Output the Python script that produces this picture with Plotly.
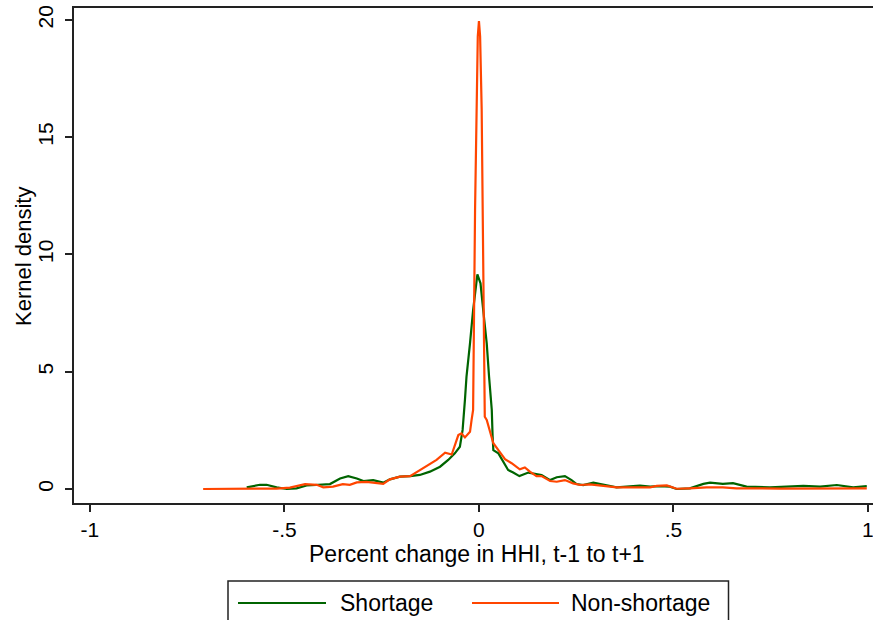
import plotly.graph_objects as go

# ---- data ----
shortage_x = [-0.597, -0.563, -0.546, -0.520, -0.494, -0.469, -0.443, -0.401, -0.383, -0.357,
              -0.336, -0.314, -0.297, -0.272, -0.246, -0.229, -0.203, -0.177, -0.152, -0.126,
              -0.100, -0.079, -0.062, -0.049, -0.042, -0.036, -0.032, -0.023, -0.015, -0.004,
              0.004, 0.011, 0.020, 0.026, 0.033, 0.035, 0.037, 0.050, 0.062, 0.075,
              0.088, 0.104, 0.127, 0.148, 0.161, 0.183, 0.200, 0.221, 0.238, 0.251,
              0.268, 0.294, 0.320, 0.354, 0.405, 0.414, 0.440, 0.465, 0.491, 0.508,
              0.542, 0.577, 0.594, 0.627, 0.653, 0.688, 0.748, 0.799, 0.834, 0.877,
              0.920, 0.962, 0.997]
shortage_y = [0.07, 0.18, 0.18, 0.07, 0.00, 0.03, 0.15, 0.18, 0.21, 0.45,
              0.55, 0.45, 0.34, 0.38, 0.27, 0.41, 0.53, 0.55, 0.60, 0.74,
              0.95, 1.24, 1.52, 1.80, 2.52, 3.80, 4.79, 6.21, 7.63, 9.15,
              8.77, 7.63, 6.21, 4.79, 3.37, 2.30, 1.66, 1.52, 1.17, 0.81,
              0.70, 0.55, 0.70, 0.64, 0.60, 0.38, 0.50, 0.55, 0.38, 0.21,
              0.17, 0.27, 0.17, 0.07, 0.13, 0.14, 0.10, 0.12, 0.10, 0.00,
              0.03, 0.22, 0.27, 0.22, 0.25, 0.10, 0.07, 0.10, 0.13, 0.10,
              0.17, 0.07, 0.12]

nonshortage_x = [-0.709, -0.640, -0.563, -0.520, -0.486, -0.447, -0.417, -0.400, -0.375, -0.350,
                 -0.332, -0.314, -0.289, -0.263, -0.246, -0.229, -0.203, -0.177, -0.152, -0.126,
                 -0.109, -0.087, -0.070, -0.053, -0.045, -0.036, -0.023, -0.019, -0.015, -0.010,
                 -0.006, -0.003, 0.000, 0.003, 0.007, 0.011, 0.015, 0.020, 0.028, 0.037,
                 0.050, 0.067, 0.084, 0.105, 0.118, 0.131, 0.148, 0.161, 0.183, 0.200,
                 0.221, 0.242, 0.260, 0.285, 0.320, 0.354, 0.440, 0.457, 0.483, 0.508,
                 0.542, 0.585, 0.627, 0.662, 0.774, 0.877, 0.997]
nonshortage_y = [0.00, 0.00, 0.01, 0.02, 0.06, 0.21, 0.18, 0.07, 0.10, 0.21,
                 0.18, 0.28, 0.30, 0.26, 0.22, 0.41, 0.53, 0.55, 0.81, 1.10,
                 1.24, 1.55, 1.47, 2.30, 2.37, 2.20, 2.44, 2.94, 3.37, 11.9,
                 17.6, 19.3, 19.95, 19.3, 16.2, 10.5, 3.08, 2.94, 2.52, 1.95,
                 1.66, 1.27, 1.10, 0.84, 0.92, 0.74, 0.55, 0.55, 0.34, 0.31,
                 0.38, 0.24, 0.17, 0.20, 0.13, 0.07, 0.07, 0.13, 0.15, 0.01,
                 0.03, 0.07, 0.07, 0.03, 0.02, 0.02, 0.03]

x_tickvals = [-1, -0.5, 0, 0.5, 1]
x_ticktext = ["-1", "-.5", "0", ".5", "1"]
y_tickvals = [0, 5, 10, 15, 20]
y_ticktext = ["0", "5", "10", "15", "20"]

series_names = ["Shortage", "Non-shortage"]
series_colors = ["#006400", "#FF4500"]
x_title = "Percent change in HHI, t-1 to t+1"
y_title = "Kernel density"

# ---- layout geometry (pixels) ----
W, H = 873, 620
ML, MR, MT, MB = 74, 0, 8, 117
PW, PH = W - ML - MR, H - MT - MB
FONT = "Liberation Sans, Arial, sans-serif"


def px2paper_x(px):
    return (px - ML) / PW


def px2paper_y(py):
    return (H - MB - py) / PH


fig = go.Figure()
fig.add_trace(go.Scatter(x=shortage_x, y=shortage_y, mode="lines", name=series_names[0],
                         line=dict(color=series_colors[0], width=2.2), showlegend=False))
fig.add_trace(go.Scatter(x=nonshortage_x, y=nonshortage_y, mode="lines", name=series_names[1],
                         line=dict(color=series_colors[1], width=2.2), showlegend=False))

fig.update_layout(
    width=W, height=H,
    margin=dict(l=ML, r=MR, t=MT, b=MB, pad=0),
    paper_bgcolor="white", plot_bgcolor="white",
    font=dict(family=FONT, color="black", size=22),
    xaxis=dict(range=[-1.041, 1.013], tickvals=x_tickvals, ticktext=x_ticktext,
               showgrid=False, zeroline=False, showline=True, linecolor="#222",
               linewidth=1.5, mirror=True, ticks="outside", ticklen=7, tickwidth=1.5,
               tickcolor="#222", tickfont=dict(size=21), ticklabelstandoff=0,
               ticklabeloverflow="allow"),
    yaxis=dict(range=[-0.597, 20.51], tickvals=y_tickvals, ticktext=y_ticktext,
               showgrid=False, zeroline=False, showline=True, linecolor="#222",
               linewidth=1.5, ticks="outside", ticklen=7, tickwidth=1.5,
               tickcolor="#222", tickangle=-90, tickfont=dict(size=21), ticklabelstandoff=4),
)

# legend box drawn manually (Stata style)
shapes = [
    dict(type="rect", xref="paper", yref="paper",
         x0=px2paper_x(228), x1=px2paper_x(728.5), y0=px2paper_y(640), y1=px2paper_y(581),
         line=dict(color="#222", width=1.5), fillcolor="white"),
    dict(type="line", xref="paper", yref="paper",
         x0=px2paper_x(238), x1=px2paper_x(326), y0=px2paper_y(603), y1=px2paper_y(603),
         line=dict(color=series_colors[0], width=2.2)),
    dict(type="line", xref="paper", yref="paper",
         x0=px2paper_x(472), x1=px2paper_x(559), y0=px2paper_y(603), y1=px2paper_y(603),
         line=dict(color=series_colors[1], width=2.2)),
]
annotations = [
    dict(text=series_names[0], xref="paper", yref="paper", x=px2paper_x(338), y=px2paper_y(603),
         xanchor="left", yanchor="middle", showarrow=False, font=dict(size=23)),
    dict(text=series_names[1], xref="paper", yref="paper", x=px2paper_x(569), y=px2paper_y(603),
         xanchor="left", yanchor="middle", showarrow=False, font=dict(size=23)),
    dict(text=x_title, xref="paper", yref="paper", x=px2paper_x(477), y=px2paper_y(554),
         xanchor="center", yanchor="middle", showarrow=False, font=dict(size=23)),
    dict(text=y_title, xref="paper", yref="paper", x=px2paper_x(23), y=px2paper_y(257),
         xanchor="center", yanchor="middle", showarrow=False, textangle=-90,
         font=dict(size=22)),
]
fig.update_layout(shapes=shapes, annotations=annotations)

fig.write_html("out.html")
